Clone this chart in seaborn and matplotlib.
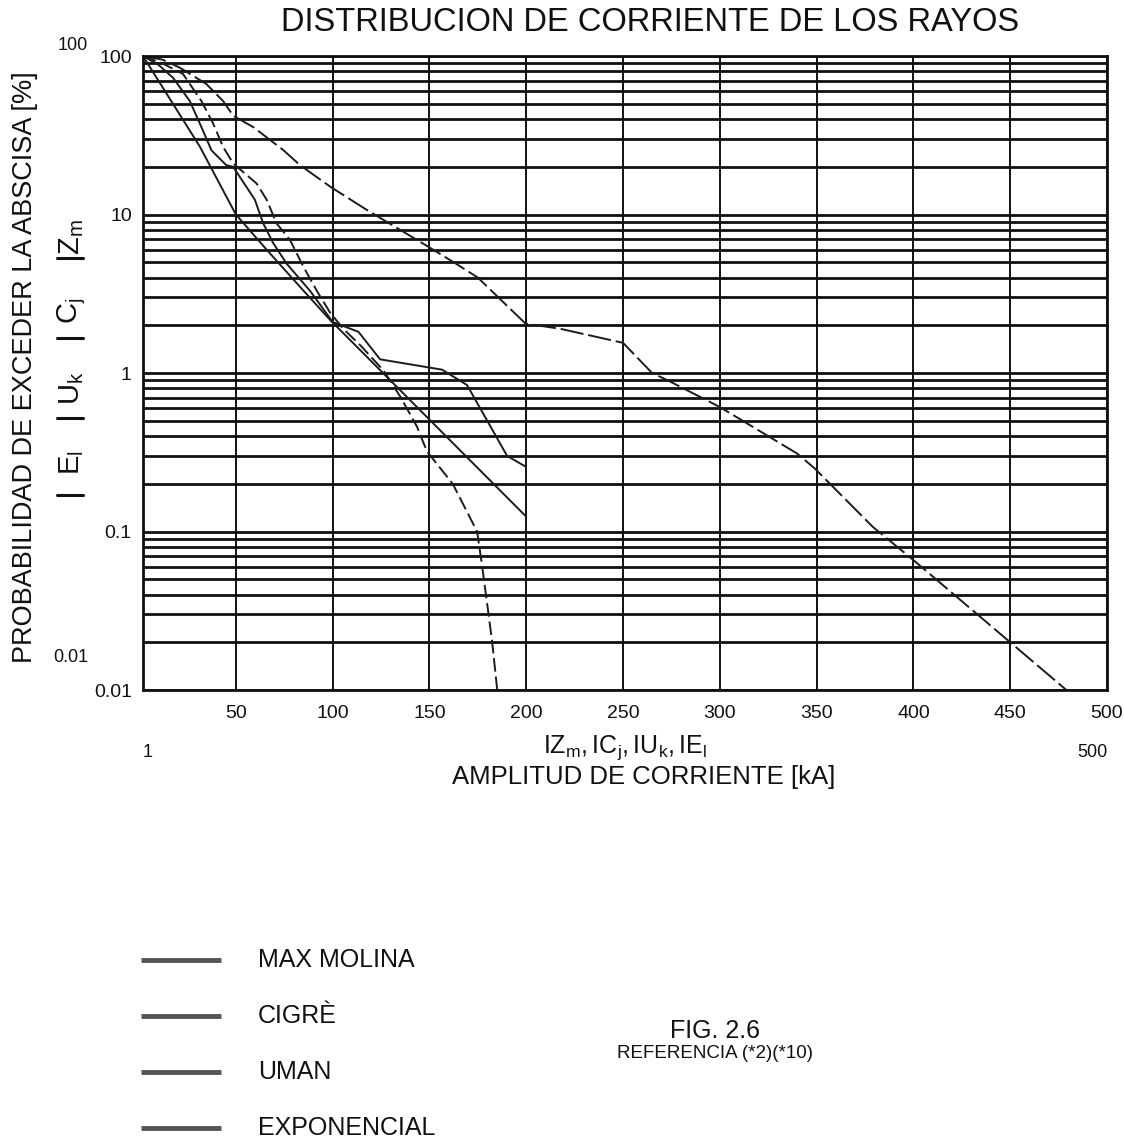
import numpy as np
import pandas as pd
import matplotlib
matplotlib.use("Agg")
import matplotlib.pyplot as plt
import seaborn as sns
from matplotlib.lines import Line2D
from matplotlib.ticker import LogLocator, FixedLocator, FixedFormatter, NullFormatter

sns.set_theme(style="white")
plt.rcParams["font.family"] = ["Liberation Sans", "DejaVu Sans"]
plt.rcParams["mathtext.fontset"] = "custom"
plt.rcParams["mathtext.rm"] = "Liberation Sans"
plt.rcParams["mathtext.it"] = "Liberation Sans"

# ---------------- data ----------------
series_names = ["MAX MOLINA", "CIGRÈ", "UMAN", "EXPONENCIAL"]

molina_kA = [2, 31.4, 50, 65.9, 83.1, 98.7, 200]
molina_pct = [100, 26.8, 10, 6.0, 3.5, 2.16, 0.124]

cigre_kA = [2, 10, 17.5, 26.2, 32.2, 37.4, 45, 48.6, 59.8, 64.1, 69.3, 76.2, 88.3, 100,
            113.3, 124.5, 156.5, 169.4, 190.1, 199.6]
cigre_pct = [100, 88, 73, 52, 35.6, 25.4, 20.5, 20, 12.4, 8.8, 6.6, 4.9, 3.3, 2.1,
             1.82, 1.22, 1.05, 0.84, 0.30, 0.257]

uman_kA = [2, 12, 22.7, 32.2, 38.3, 43.4, 48.6, 60.7, 65.9, 71, 78, 84.8, 91.8, 98.7,
           105.5, 114.2, 126.2, 134.9, 143.5, 148.7, 162, 174.6, 177, 179.8, 182.4, 185]
uman_pct = [100, 90, 77, 52, 37.4, 26.7, 21, 15.7, 12.4, 8.8, 6.9, 4.7, 3.3, 2.4,
            1.9, 1.5, 1.04, 0.71, 0.46, 0.32, 0.2, 0.1, 0.063, 0.035, 0.02, 0.01]

expo_kA = [2, 12, 21, 34.8, 43.4, 48.6, 59, 74.5, 83.1, 98.7, 117.6, 134.9, 150, 163.4,
           175, 199.6, 217.7, 250, 265, 273, 300, 340, 349, 379, 400, 450, 479]
expo_pct = [100, 95, 84.5, 66.5, 52, 42, 35.6, 25.5, 20.5, 15, 10.7, 8.0, 6.2, 4.92,
            4.0, 2.05, 1.9, 1.55, 1.0, 0.9, 0.61, 0.31, 0.25, 0.107, 0.066, 0.02, 0.01]

x_ticks = [50, 100, 150, 200, 250, 300, 350, 400, 450, 500]
y_ticks = [0.01, 0.1, 1, 10, 100]
y_tick_labels = ["0.01", "0.1", "1", "10", "100"]

# ---------------- figure ----------------
frames = []
for name, xs, ys in zip(series_names,
                        [molina_kA, cigre_kA, uman_kA, expo_kA],
                        [molina_pct, cigre_pct, uman_pct, expo_pct]):
    frames.append(pd.DataFrame({"kA": xs, "pct": ys, "serie": name}))
df = pd.concat(frames, ignore_index=True)

fig = plt.figure(figsize=(11.24, 11.39), dpi=100)
ax = fig.add_axes([0.1272, 0.3942, 0.8577, 0.5566])

ink = "#1c1c1c"
sns.lineplot(data=df, x="kA", y="pct", hue="serie", style="serie",
             palette={n: ink for n in series_names},
             dashes={"MAX MOLINA": "", "CIGRÈ": "", "UMAN": (7, 2.5), "EXPONENCIAL": (12, 2.5)},
             sort=False, estimator=None, units="serie", linewidth=1.4,
             legend=False, ax=ax)

ax.set_yscale("log")
ax.set_xlim(2, 500)
ax.set_ylim(0.01, 100)

ax.xaxis.set_major_locator(FixedLocator(x_ticks))
ax.yaxis.set_major_locator(FixedLocator(y_ticks))
ax.yaxis.set_major_formatter(FixedFormatter(y_tick_labels))
ax.yaxis.set_minor_locator(LogLocator(base=10, subs=range(2, 10)))
ax.yaxis.set_minor_formatter(NullFormatter())

ax.grid(True, which="major", axis="x", color="#111111", linewidth=1.4)
ax.grid(True, which="both", axis="y", color="#111111", linewidth=2.0)
ax.set_axisbelow(True)

ax.tick_params(axis="both", which="both", length=0, labelsize=14, colors="#111111")
ax.tick_params(axis="x", pad=11)
ax.tick_params(axis="y", pad=8)
for s in ax.spines.values():
    s.set_color("#111111")
    s.set_linewidth(2.0)
ax.set_xlabel("")
ax.set_ylabel("")

# ---------------- texts ----------------
fig.text(0.578, 0.980, "DISTRIBUCION DE CORRIENTE DE LOS RAYOS", ha="center", va="center",
         fontsize=23.5, color="#111111")
fig.text(0.022, 0.678, "PROBABILIDAD DE EXCEDER LA ABSCISA [%]", rotation=90,
         ha="center", va="center", fontsize=19.5, color="#111111")
fig.text(0.065, 0.960, "100", ha="center", va="center", fontsize=13, color="#111111")
fig.text(0.063, 0.423, "0.01", ha="center", va="center", fontsize=13, color="#111111")

# rotated sub-labels on the left
for lab, yp in [(r"$\mathregular{Z_m}$", 0.792), (r"$\mathregular{C_j}$", 0.727),
                (r"$\mathregular{U_k}$", 0.659), (r"$\mathregular{E_l}$", 0.594)]:
    fig.text(0.064, yp, lab, rotation=90, ha="center", va="center", fontsize=21, color="#111111")
for yp in [0.7735, 0.7032, 0.633, 0.5655]:
    fig.add_artist(Line2D([0.051, 0.074], [yp, yp], transform=fig.transFigure,
                          color="#111111", linewidth=2.2))

fig.text(0.1317, 0.3397, "1", ha="center", va="center", fontsize=13, color="#111111")
fig.text(0.972, 0.3397, "500", ha="center", va="center", fontsize=13, color="#111111")
fig.text(0.556, 0.3435, r"$\mathregular{IZ_m, IC_j, IU_k, IE_l}$", ha="center", va="center",
         fontsize=18, color="#111111")
fig.text(0.573, 0.3175, "AMPLITUD DE CORRIENTE [kA]", ha="center", va="center",
         fontsize=18.5, color="#111111")

# legend (manual, as in the scanned figure)
leg_y = [0.157, 0.108, 0.0589, 0.0097]
for name, yp in zip(series_names, leg_y):
    fig.add_artist(Line2D([0.1255, 0.1966], [yp, yp], transform=fig.transFigure,
                          color="#555555", linewidth=3.5, solid_capstyle="butt"))
    fig.text(0.2295, yp, name, ha="left", va="center", fontsize=18, color="#111111")

fig.text(0.636, 0.095, "FIG. 2.6", ha="center", va="center", fontsize=18, color="#111111")
fig.text(0.636, 0.075, "REFERENCIA (*2)(*10)", ha="center", va="center", fontsize=13.5,
         color="#111111")

fig.savefig("out.png", dpi=100, facecolor="white")
